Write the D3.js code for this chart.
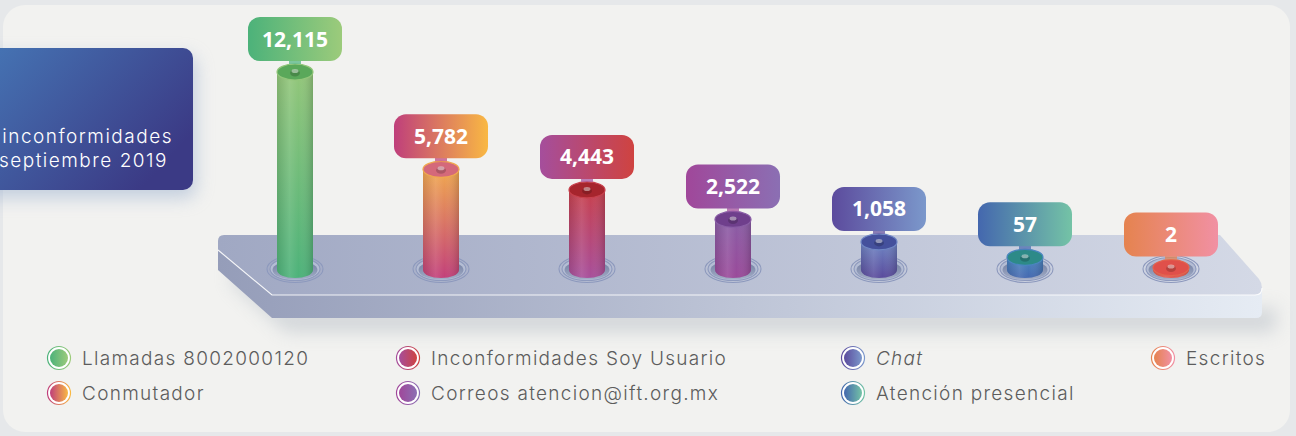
<!doctype html>
<html>
<head>
<meta charset="utf-8">
<title>Inconformidades septiembre 2019</title>
<script src="https://cdn.jsdelivr.net/npm/d3@7"></script>
<style>
  html, body { margin: 0; padding: 0; background: #e6e8ea; }
  svg { display: block; }
</style>
</head>
<body>
<svg width="1296" height="436"></svg>
<script>
// data
var categories = ["Llamadas 8002000120", "Conmutador", "Inconformidades Soy Usuario",
                  "Correos atencion@ift.org.mx", "Chat", "Atención presencial", "Escritos"];
var values = [12115, 5782, 4443, 2522, 1058, 57, 2];
var titleLines = ["inconformidades", "septiembre 2019"];

// colours: label/legend gradient (left -> right), cylinder body (top -> bottom), lid
var colorA = ["#4cb27a", "#bf3f7b", "#a54e9c", "#a0479a", "#5c4b9d", "#4467ae", "#e5834f"];
var colorB = ["#9ccb7b", "#f9b843", "#cf4340", "#8b6fb3", "#7b98cb", "#74c3a6", "#f190a3"];
var bodyTop = ["#93c67a", "#f0a84f", "#c8414d", "#8a5ea6", "#6f86c4", "#4a86c0", "#e3644f"];
var bodyBot = ["#4db27a", "#c2407a", "#a74f9b", "#9a4a9a", "#5a4b9c", "#4569b0", "#e0574f"];
var lidCol  = ["#5aa85a", "#d4697a", "#a6252d", "#6f3f8c", "#44509c", "#2d8a88", "#e0504a"];

var svg = d3.select("svg"),
    width = +svg.attr("width"),
    height = +svg.attr("height"),
    defs = svg.append("defs");

var blur = defs.append("filter").attr("id", "blur")
    .attr("x", "-20%").attr("y", "-50%").attr("width", "140%").attr("height", "200%");
blur.append("feGaussianBlur").attr("stdDeviation", 9);

function linGrad(id, c0, c1, vertical) {
    var g = defs.append("linearGradient").attr("id", id)
        .attr("x1", 0).attr("y1", 0)
        .attr("x2", vertical ? 0 : 1).attr("y2", vertical ? 1 : 0);
    g.append("stop").attr("offset", 0).attr("stop-color", c0);
    g.append("stop").attr("offset", 1).attr("stop-color", c1);
    return g;
}

categories.forEach(function(c, i) {
    linGrad("box" + i, colorA[i], colorB[i], false);
    linGrad("body" + i, bodyTop[i], bodyBot[i], true);
});
linGrad("titleGrad", "#4678b7", "#3b3a85", false).attr("y2", 0.6);
linGrad("plTop", "#a0a8c3", "#d4d9e6", false);
linGrad("plSide", "#959db9", "#e6ecf4", false);
linGrad("hole", "#6f7ca0", "#a3adc6", true);

var shade = defs.append("linearGradient").attr("id", "shade");
[[0, "#000", 0.10], [0.35, "#fff", 0.10], [0.6, "#fff", 0.0], [1, "#000", 0.16]].forEach(function(s) {
    shade.append("stop").attr("offset", s[0]).attr("stop-color", s[1]).attr("stop-opacity", s[2]);
});

// panel
svg.append("rect")
    .attr("x", 3).attr("y", 5).attr("width", 1287).attr("height", 427).attr("rx", 22)
    .attr("fill", "#f2f2f0");

// title box
svg.append("rect")
    .attr("x", -30).attr("y", 56).attr("width", 226).attr("height", 142).attr("rx", 10)
    .attr("fill", "#9bb0cf").attr("opacity", 0.55).attr("filter", "url(#blur)");
svg.append("rect")
    .attr("x", -30).attr("y", 48).attr("width", 223).attr("height", 142).attr("rx", 10)
    .attr("fill", "url(#titleGrad)");
svg.append("g")
    .attr("font-family", "Inter, 'Noto Sans', sans-serif")
    .attr("font-weight", 300)
    .attr("font-size", 19)
    .attr("letter-spacing", 1.5)
    .attr("fill", "#fff")
    .attr("text-anchor", "end")
    .selectAll("text")
    .data(titleLines)
    .enter().append("text")
    .attr("x", function(d, i) { return i ? 168 : 173; })
    .attr("y", function(d, i) { return 143 + i * 24; })
    .text(function(d) { return d; });

// platform
var plLeft = 218, plRight = 1262, plTop = 235, plEdge = 295, plBottom = 318;
var sidePath = "M" + plLeft + "," + (plTop + 15) + " L" + (plLeft + 54) + "," + plEdge +
    " L" + (plRight - 6) + "," + plEdge + " L" + plRight + "," + (plEdge - 6) +
    " L" + plRight + "," + (plBottom - 6) + " Q" + plRight + "," + plBottom + " " + (plRight - 6) + "," + plBottom +
    " L" + (plLeft + 54) + "," + plBottom + " L" + plLeft + "," + (plTop + 35) + " Z";
var topPath = "M" + plLeft + "," + (plTop + 15) + " L" + plLeft + "," + (plTop + 6) +
    " Q" + plLeft + "," + plTop + " " + (plLeft + 6) + "," + plTop +
    " L" + (plRight - 42) + "," + plTop + " L" + (plRight - 3) + "," + (plEdge - 16) +
    " Q" + plRight + "," + (plEdge - 12) + " " + plRight + "," + (plEdge - 7) +
    " Q" + plRight + "," + plEdge + " " + (plRight - 7) + "," + plEdge +
    " L" + (plLeft + 54) + "," + plEdge + " Z";

svg.append("path").attr("d", sidePath)
    .attr("transform", "translate(14,14)")
    .attr("fill", "#aab3bd").attr("opacity", 0.45).attr("filter", "url(#blur)");
svg.append("path").attr("d", sidePath).attr("fill", "url(#plSide)");
svg.append("path").attr("d", topPath).attr("fill", "url(#plTop)");
svg.append("path")
    .attr("d", "M" + plLeft + "," + (plTop + 15) + " L" + (plLeft + 54) + "," + plEdge +
        " L" + (plRight - 7) + "," + plEdge + " Q" + plRight + "," + plEdge + " " + plRight + "," + (plEdge - 7))
    .attr("fill", "none").attr("stroke", "#fff").attr("stroke-opacity", 0.85).attr("stroke-width", 1.2);

// scales
var x = d3.scalePoint().domain(categories).range([295, 1171]);
var base = 270;
// very small values are flattened near the platform
var y = d3.scaleLinear().domain([0, 10, 12115]).range([base, base - 12, 72]);
var fmt = d3.format(",");
var rx = 18, ry = 8;

var bars = svg.append("g").selectAll("g")
    .data(categories)
    .enter().append("g")
    .attr("transform", function(d) { return "translate(" + x(d) + ",0)"; });

// rings in the platform
bars.append("ellipse").attr("cy", base - 1).attr("rx", 28).attr("ry", 13.5)
    .attr("fill", "none").attr("stroke", "#8d99bd").attr("stroke-width", 1.1);
bars.append("ellipse").attr("cy", base - 1).attr("rx", 25).attr("ry", 11.5)
    .attr("fill", "#b4bdd4").attr("stroke", "#8d99bd").attr("stroke-width", 1.1);
bars.append("ellipse").attr("cy", base).attr("rx", 22.5).attr("ry", 9.5)
    .attr("fill", "url(#hole)");

function bodyPath(i) {
    var t = y(values[i]);
    return "M" + (-rx) + "," + t + " L" + (-rx) + "," + base +
        " A" + rx + "," + ry + " 0 0 0 " + rx + "," + base +
        " L" + rx + "," + t + " Z";
}

bars.append("path").attr("d", function(d, i) { return bodyPath(i); })
    .attr("fill", function(d, i) { return "url(#body" + i + ")"; });
bars.append("path").attr("d", function(d, i) { return bodyPath(i); })
    .attr("fill", "url(#shade)");

// lid
bars.append("ellipse")
    .attr("cy", function(d, i) { return y(values[i]); })
    .attr("rx", rx).attr("ry", ry)
    .attr("fill", function(d, i) { return lidCol[i]; })
    .attr("stroke", function(d, i) { return bodyTop[i]; })
    .attr("stroke-width", 1.2);
bars.append("ellipse")
    .attr("cy", function(d, i) { return y(values[i]) + 1; })
    .attr("rx", 5).attr("ry", 3.5)
    .attr("fill", "#000").attr("opacity", 0.18);
bars.append("ellipse")
    .attr("cy", function(d, i) { return y(values[i]) - 1; })
    .attr("rx", 3.5).attr("ry", 2)
    .attr("fill", "#fff").attr("opacity", 0.45);
// tab under label
bars.append("rect")
    .attr("x", -6).attr("width", 12).attr("height", 4)
    .attr("y", function(d, i) { return y(values[i]) - 12; })
    .attr("fill", function(d, i) { return colorA[i]; })
    .attr("opacity", 0.7);

// value labels
bars.append("rect")
    .attr("x", -47).attr("width", 94).attr("height", 44).attr("rx", 12)
    .attr("y", function(d, i) { return y(values[i]) - 55; })
    .attr("fill", function(d, i) { return "url(#box" + i + ")"; });
bars.append("text")
    .attr("text-anchor", "middle")
    .attr("y", function(d, i) { return y(values[i]) - 25.5; })
    .attr("font-family", "'Open Sans', sans-serif")
    .attr("font-weight", 700)
    .attr("font-size", 21)
    .attr("fill", "#fff")
    .text(function(d, i) { return fmt(values[i]); });

// legend
var legendX = [59, 408, 853, 1163];
var legend = svg.append("g").selectAll("g")
    .data(categories)
    .enter().append("g")
    .attr("transform", function(d, i) {
        return "translate(" + legendX[Math.floor(i / 2)] + "," + (358 + (i % 2) * 35) + ")";
    });
legend.append("circle").attr("r", 11.5).attr("fill", "#fff")
    .attr("stroke", function(d, i) { return "url(#box" + i + ")"; }).attr("stroke-width", 1.2);
legend.append("circle").attr("r", 9)
    .attr("fill", function(d, i) { return "url(#box" + i + ")"; });
legend.append("text")
    .attr("x", 23).attr("y", 7)
    .attr("font-family", "Inter, 'Noto Sans', sans-serif")
    .attr("font-weight", 300)
    .attr("font-size", 19)
    .attr("letter-spacing", 1.3)
    .attr("font-style", function(d) { return d === "Chat" ? "italic" : "normal"; })
    .attr("fill", "#5c5c5c")
    .text(function(d) { return d; });
</script>
</body>
</html>
